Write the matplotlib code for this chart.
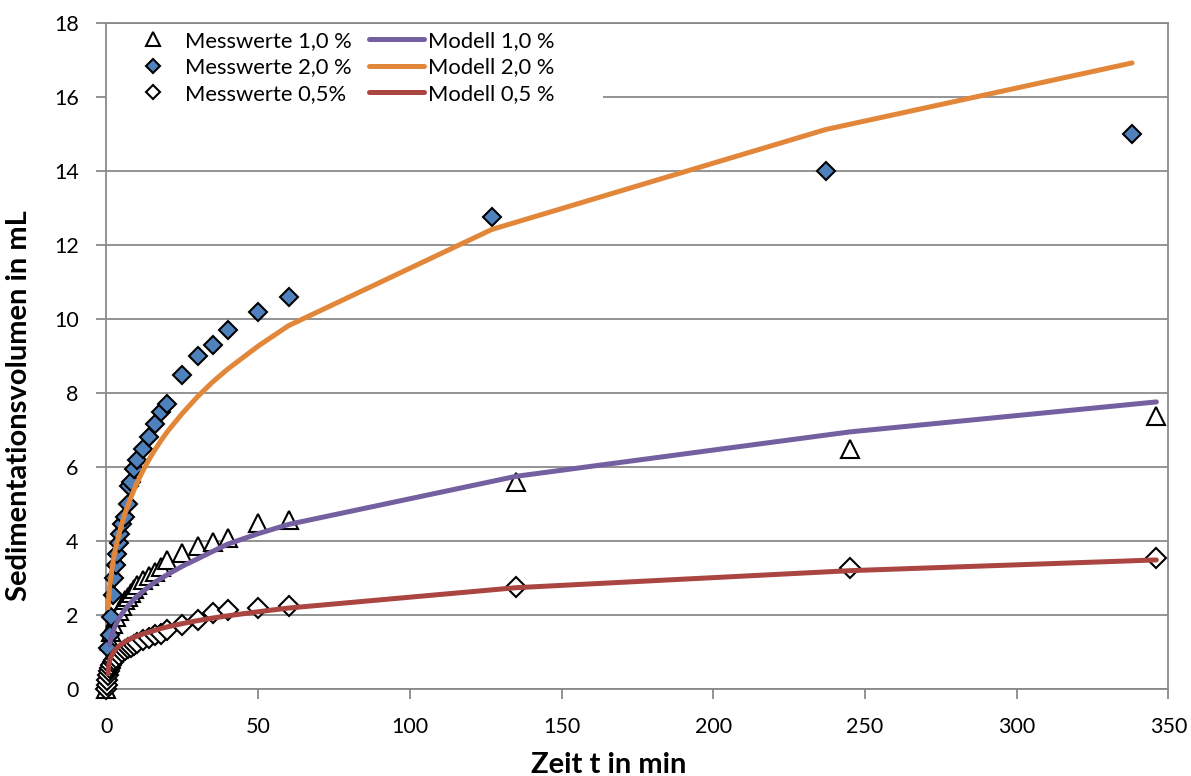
import matplotlib
matplotlib.use("Agg")
import matplotlib.pyplot as plt
from matplotlib.lines import Line2D
from matplotlib.patches import Rectangle

plt.rcParams['font.family'] = ['Lato', 'DejaVu Sans']

# Messwerte 1,0 % (triangles)
tri_t = [0, 1, 1.5, 2, 3, 4, 5, 6, 7, 8, 9, 10, 12, 14, 16, 18, 20, 25, 30, 35, 40, 50, 60, 135, 245, 346]
tri_v = [0, 1.3, 1.55, 1.75, 1.95, 2.1, 2.25, 2.4, 2.5, 2.6, 2.7, 2.8, 2.95, 3.05, 3.17, 3.3, 3.5, 3.68, 3.86,
         3.98, 4.07, 4.49, 4.57, 5.6, 6.5, 7.38]

# Messwerte 2,0 % (blue diamonds)
blue_t = [0.5, 1, 1.5, 2, 2.5, 3, 3.5, 4, 4.5, 5, 6, 7, 7.5, 8, 9, 10, 12, 14, 16, 18, 20, 25, 30, 35, 40, 50,
          60, 127, 237, 338]
blue_v = [1.1, 1.45, 1.95, 2.55, 3.0, 3.35, 3.65, 3.95, 4.2, 4.45, 4.65, 5.0, 5.5, 5.6, 5.95, 6.2, 6.5, 6.8,
          7.15, 7.5, 7.7, 8.5, 9.0, 9.3, 9.7, 10.2, 10.6, 12.75, 14.0, 15.0]

# Messwerte 0,5% (white diamonds)
dia_t = [0, 0.17, 0.33, 0.5, 0.75, 1, 1.5, 2, 2.5, 3, 4, 5, 6, 7, 8, 9, 10, 12, 14, 16, 18, 20, 25, 30, 35, 40,
         50, 60, 135, 245, 346]
dia_v = [0, 0.12, 0.25, 0.38, 0.48, 0.56, 0.65, 0.72, 0.78, 0.84, 0.93, 1.0, 1.05, 1.1, 1.15, 1.2, 1.24, 1.32,
         1.38, 1.45, 1.5, 1.6, 1.73, 1.86, 2.05, 2.14, 2.2, 2.25, 2.77, 3.26, 3.54]

# model curves
mod1_t = [1, 1.5, 2, 3, 4, 5, 6, 7, 8, 9, 10, 12, 14, 16, 18, 20, 25, 30, 35, 40, 50, 60, 135, 245, 346]
mod1_v = [1.2, 1.38, 1.52, 1.73, 1.89, 2.02, 2.14, 2.24, 2.33, 2.42, 2.5, 2.64, 2.77, 2.89, 2.99, 3.09, 3.32,
          3.52, 3.72, 3.92, 4.2, 4.45, 5.75, 6.95, 7.76]

mod2_t = blue_t
mod2_v = [2.2, 2.75, 3.05, 3.35, 3.6, 3.8, 3.98, 4.15, 4.3, 4.45, 4.72, 4.95, 5.06, 5.17, 5.37, 5.56, 5.9, 6.2,
          6.47, 6.72, 6.95, 7.45, 7.9, 8.3, 8.65, 9.27, 9.82, 12.42, 15.12, 16.92]

mod05_t = [0.5, 0.75, 1, 1.5, 2, 2.5, 3, 4, 5, 6, 7, 8, 9, 10, 12, 14, 16, 18, 20, 25, 30, 35, 40, 50, 60, 135,
           245, 346]
mod05_v = [0.42, 0.62, 0.75, 0.88, 0.96, 1.02, 1.07, 1.15, 1.22, 1.27, 1.32, 1.36, 1.40, 1.43, 1.49, 1.54, 1.59,
           1.64, 1.68, 1.77, 1.85, 1.92, 1.98, 2.09, 2.19, 2.74, 3.2, 3.49]

grid_col = '#8a8a8a'
c_blue = '#4F81BD'
c_purple = '#7460A0'
c_orange = '#E2873A'
c_red = '#AA4542'

fig = plt.figure(figsize=(11.91, 7.76), dpi=100)
ax = fig.add_axes([0.0894, 0.112, 0.8917, 0.8584])

ax.set_xlim(0, 350)
ax.set_ylim(0, 18)
ax.set_xticks(range(0, 351, 50))
ax.set_yticks(range(0, 19, 2))
ax.yaxis.grid(True, color=grid_col, linewidth=1.3)
ax.set_axisbelow(True)
for s in ax.spines.values():
    s.set_color(grid_col)
    s.set_linewidth(1.3)
ax.tick_params(axis='both', colors=grid_col, length=7, width=1.3, labelsize=15.5, labelcolor='black')
ax.tick_params(axis='x', pad=13)
ax.tick_params(axis='y', pad=13)

# white background behind the legend (hides the 16 gridline there)
ax.add_patch(Rectangle((0, 0.88), 0.4675, 0.114, transform=ax.transAxes,
                       facecolor='white', edgecolor='none', zorder=1.5))

# measured values
ax.plot(tri_t, tri_v, ls='none', marker='^', ms=13, mfc='white', mec='black', mew=1.5, clip_on=False, zorder=3)
ax.plot(blue_t, blue_v, ls='none', marker='D', ms=9.5, mfc=c_blue, mec='black', mew=1.5, clip_on=False, zorder=3)
ax.plot(dia_t, dia_v, ls='none', marker='D', ms=10, mfc='white', mec='black', mew=1.5, clip_on=False, zorder=3)

# model lines
ax.plot(mod1_t, mod1_v, color=c_purple, lw=3.6, solid_capstyle='round', zorder=4)
ax.plot(mod2_t, mod2_v, color=c_orange, lw=3.6, solid_capstyle='round', zorder=4)
ax.plot(mod05_t, mod05_v, color=c_red, lw=3.6, solid_capstyle='round', zorder=4)

ax.set_xlabel('Zeit t in min', fontsize=21, fontweight='bold')
ax.set_ylabel('Sedimentationsvolumen in mL', fontsize=21, fontweight='bold')
ax.xaxis.set_label_coords(0.4727, -0.0946)
ax.yaxis.set_label_coords(-0.0702, 0.425)

handles = [
    Line2D([], [], ls='none', marker='^', ms=10, mfc='white', mec='black', mew=1.5),
    Line2D([], [], ls='none', marker='D', ms=7, mfc=c_blue, mec='black', mew=1.5),
    Line2D([], [], ls='none', marker='D', ms=7, mfc='white', mec='black', mew=1.5),
    Line2D([], [], color=c_purple, lw=3.6, solid_capstyle='round'),
    Line2D([], [], color=c_orange, lw=3.6, solid_capstyle='round'),
    Line2D([], [], color=c_red, lw=3.6, solid_capstyle='round'),
]
labels = ['Messwerte 1,0 %', 'Messwerte 2,0 %', 'Messwerte 0,5%',
          'Modell 1,0 %', 'Modell 2,0 %', 'Modell 0,5 %']
leg = ax.legend(handles, labels, ncol=2, loc='upper left', bbox_to_anchor=(0.0174, 0.9885),
                fontsize=15.8, frameon=False,
                handlelength=2.55, handletextpad=0.18, columnspacing=0.77, labelspacing=0.3,
                borderpad=0.0, borderaxespad=0.0)
leg.set_zorder(5)

fig.savefig('out.png', dpi=100)
